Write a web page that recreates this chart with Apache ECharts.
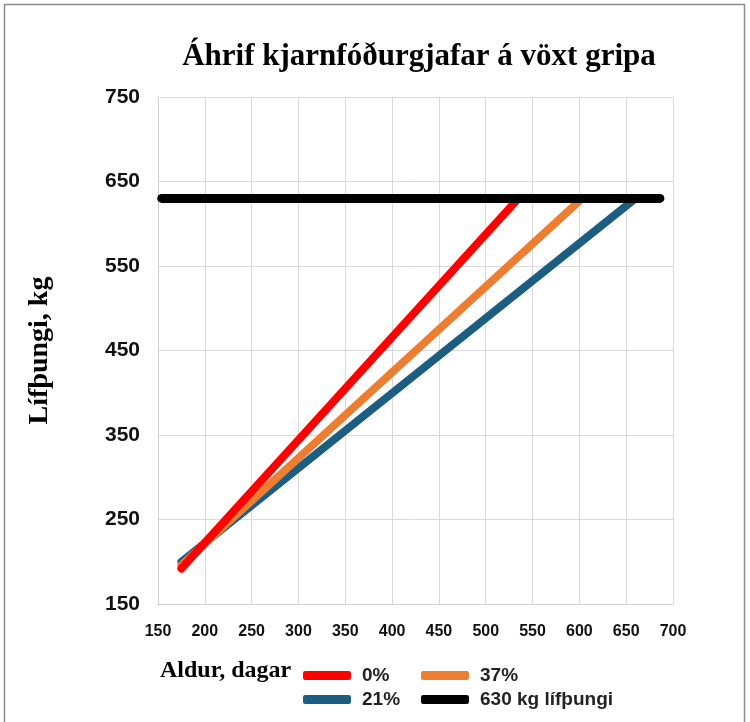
<!DOCTYPE html>
<html lang="is">
<head>
    <meta charset="UTF-8">
    <title>Áhrif kjarnfóðurgjafar á vöxt gripa</title>
    <script src="https://cdn.jsdelivr.net/npm/echarts@6/dist/echarts.min.js"></script>
    <style>
        body { margin: 0; background: #fff; }
        #main { width: 750px; height: 722px; }
    </style>
</head>
<body>
<div id="main"></div>
<script type="text/javascript">
    // gögn lesin af myndinni
    var seriesNames = ['0%', '21%', '37%', '630 kg lífþungi'];
    var line0 = [[175, 192], [535, 630]];
    var line21 = [[175, 200], [660, 630]];
    var line37 = [[175, 196], [603, 630]];
    var line630 = [[154, 630], [686, 630]];
    var colors = ['#ff0000', '#1b5e82', '#ed7d31', '#000000'];

    var myChart = echarts.init(document.getElementById('main'));

    var sans = 'Liberation Sans, Arial, sans-serif';
    var serif = 'Liberation Serif, Times New Roman, serif';

    function lineSeries(name, data, color, width, z) {
        return {
            name: name,
            type: 'line',
            data: data,
            symbol: 'none',
            z: z,
            lineStyle: { color: color, width: width, cap: 'round' },
            itemStyle: { color: color }
        };
    }

    var legendText = { fontFamily: sans, fontWeight: 'bold', fontSize: 19, color: '#222', padding: [0, 0, 0, 6] };

    var option = {
        animation: false,
        title: {
            text: 'Áhrif kjarnfóðurgjafar á vöxt gripa',
            left: 414,
            textAlign: 'center',
            top: 36,
            textStyle: { fontFamily: serif, fontWeight: 'bold', fontSize: 31, color: '#000' }
        },
        grid: { left: 158, right: 77, top: 97, bottom: 118 },
        legend: [{
            data: ['0%', '21%'],
            orient: 'vertical',
            left: 298,
            top: 661,
            itemWidth: 48,
            itemHeight: 9,
            itemGap: 5,
            icon: 'roundRect',
            textStyle: legendText
        }, {
            data: ['37%', '630 kg lífþungi'],
            orient: 'vertical',
            left: 416,
            top: 661,
            itemWidth: 48,
            itemHeight: 9,
            itemGap: 5,
            icon: 'roundRect',
            textStyle: legendText
        }],
        xAxis: {
            type: 'value',
            min: 150,
            max: 700,
            interval: 50,
            axisLine: { show: true, lineStyle: { color: '#d0d0d0', width: 1 } },
            axisTick: { show: false },
            splitLine: { show: true, lineStyle: { color: '#d9d9d9', width: 1 } },
            axisLabel: { fontFamily: sans, fontWeight: 'bold', fontSize: 16, color: '#111', margin: 20 }
        },
        yAxis: {
            type: 'value',
            min: 150,
            max: 750,
            interval: 100,
            name: 'Lífþungi, kg',
            nameLocation: 'middle',
            nameRotate: 90,
            nameGap: 104,
            nameTextStyle: { fontFamily: serif, fontWeight: 'bold', fontSize: 28, color: '#000' },
            axisLine: { show: true, lineStyle: { color: '#d0d0d0', width: 1 } },
            axisTick: { show: false },
            splitLine: { show: true, lineStyle: { color: '#d9d9d9', width: 1 } },
            axisLabel: { fontFamily: sans, fontWeight: 'bold', fontSize: 21, color: '#111', margin: 18 }
        },
        graphic: [{
            type: 'rect',
            shape: { x: 4.5, y: 4.5, width: 740, height: 740 },
            style: { fill: 'none', stroke: '#8c8c8c', lineWidth: 1.5 },
            silent: true
        }, {
            type: 'text',
            left: 160,
            top: 659,
            style: { text: 'Aldur, dagar', font: 'bold 24px ' + serif, fill: '#000' }
        }],
        series: [
            lineSeries(seriesNames[1], line21, colors[1], 8, 2),
            lineSeries(seriesNames[2], line37, colors[2], 8, 3),
            lineSeries(seriesNames[0], line0, colors[0], 8, 4),
            lineSeries(seriesNames[3], line630, colors[3], 9, 5)
        ]
    };

    myChart.setOption(option);
</script>
</body>
</html>
